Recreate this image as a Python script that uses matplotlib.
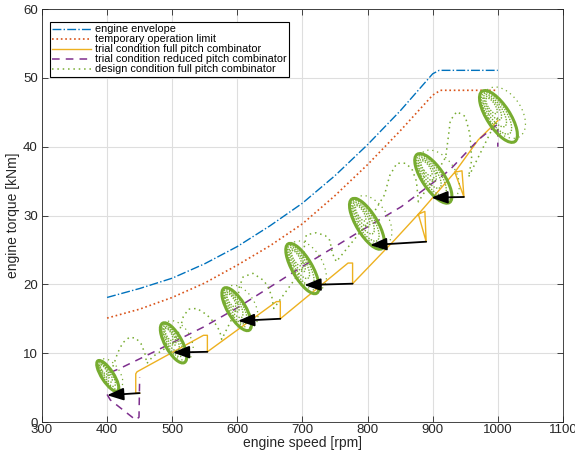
import matplotlib

matplotlib.use("Agg")
import matplotlib.pyplot as plt
import numpy as np
from matplotlib.patches import Ellipse
from matplotlib.transforms import ScaledTranslation

plt.rcParams["font.family"] = ["Liberation Sans", "DejaVu Sans"]

# engine envelope and temporary limit (rpm, kNm)
env_x = [400, 450, 500, 550, 600, 650, 700, 750, 800, 850, 900, 910, 1000]
env_y = [18.1, 19.4, 20.9, 23.0, 25.5, 28.5, 31.8, 35.8, 40.3, 45.2, 50.6, 51.1, 51.1]
lim_x = [400, 450, 500, 550, 600, 650, 700, 750, 800, 850, 900, 912, 1000]
lim_y = [15.1, 16.4, 18.1, 20.2, 22.8, 25.6, 28.8, 32.9, 37.4, 42.3, 47.5, 48.2, 48.2]

# trial condition, full pitch combinator (sawtooth)
full_x = [450, 444, 444, 446, 548, 554, 554, 660, 666, 666, 770, 777, 777, 842,
          878, 888, 890, 878, 934, 945, 948, 934, 970, 1000]
full_y = [4.2, 4.2, 7.0, 7.3, 12.6, 12.6, 10.2, 17.5, 17.5, 15.0, 23.1, 23.1, 20.1, 26.5,
          30.2, 30.6, 26.2, 30.2, 36.3, 36.5, 32.7, 36.3, 41.0, 43.8]

# trial condition, reduced pitch combinator
red_x = [400, 405, 444, 449, 450, np.nan, 405, 420, 470, 548, 600, 700, 783, 852,
         926, 970, 1000, 1000]
red_y = [4.0, 3.2, 0.3, 0.7, 6.5, np.nan, 7.2, 7.8, 10.1, 13.8, 16.6, 22.6, 27.4, 31.3,
         36.6, 41.0, 43.3, 40.0]

# design condition: settled oscillation ellipses (centre rpm, kNm; size px; angle deg)
ell_x = [401, 502, 599, 700, 799, 901, 1001]
ell_y = [6.7, 11.5, 16.4, 22.3, 28.8, 35.4, 44.4]
ell_major = [36, 45, 49, 57, 58, 58, 60]
ell_minor = [12, 17, 18, 20, 21, 22, 23]
ell_angle = [-57, -61, -59, -60, -59, -56, -57]

# design condition: transient loops between settled points
loops_x = [
    [401, 410, 416, 424, 434, 444, 452, 458, 461, 470, 502],
    [502, 512, 517, 525, 538, 553, 566, 573, 576, 599],
    [599, 603, 609, 624, 640, 647, 653, 656, 700],
    [700, 702, 706, 721, 735, 742, 746, 752, 799],
    [799, 826, 834, 845, 858, 868, 875, 878, 901],
    [901, 920, 924, 927, 937, 950, 957, 960, 955, 1001],
]
loops_y = [
    [6.7, 8.3, 10.0, 11.5, 12.3, 12.2, 11.4, 10.0, 8.5, 9.5, 11.5],
    [11.5, 13.5, 15.3, 16.4, 16.5, 15.6, 14.3, 13.2, 12.0, 16.4],
    [16.4, 19.6, 21.1, 21.6, 20.6, 19.7, 18.2, 16.5, 22.3],
    [22.3, 25.0, 27.2, 27.5, 27.1, 26.4, 24.5, 23.3, 28.8],
    [28.8, 33.0, 35.8, 37.6, 37.6, 36.8, 35.0, 32.0, 35.4],
    [35.4, 38.5, 41.4, 43.8, 45.1, 44.4, 41.9, 38.1, 35.6, 44.4],
]

# speed step arrows
arr_x0 = [450, 554, 666, 777, 890, 948]
arr_y0 = [4.2, 10.2, 15.0, 20.1, 26.2, 32.7]
arr_x1 = [400, 501, 601, 703, 804, 898]
arr_y1 = [3.9, 10.1, 14.7, 19.9, 25.7, 32.6]

BLUE = "#0072BD"
RED = "#D95319"
YELLOW = "#EDB120"
PURPLE = "#7E2F8E"
GREEN = "#77AC30"


def ring(ax, cx, cy, w, h, ang, dx=0.0, dy=0.0, **kw):
  # ellipse sized in pixels, centred on a data point
  tr = ax.figure.dpi_scale_trans + ScaledTranslation(cx, cy, ax.transData)
  e = Ellipse((dx / 100, dy / 100), w / 100, h / 100, angle=ang, fill=False,
              transform=tr, **kw)
  ax.add_patch(e)


fig = plt.figure(figsize=(5.75, 4.55), dpi=100)
ax = fig.add_axes([0.073, 0.0725, 0.906, 0.9075])

ax.plot(env_x, env_y, "-.", color=BLUE, lw=1.0, label="engine envelope")
ax.plot(lim_x, lim_y, ":", color=RED, lw=1.2, label="temporary operation limit")
ax.plot(full_x, full_y, "-", color=YELLOW, lw=1.0,
        label="trial condition full pitch combinator")
ax.plot(red_x, red_y, color=PURPLE, lw=1.1, dashes=(5, 4),
        label="trial condition reduced pitch combinator")

for i, (lx, ly) in enumerate(zip(loops_x, loops_y)):
  ax.plot(lx, ly, ls=(0, (1, 2.5)), color=GREEN, lw=1.1,
          label="design condition full pitch combinator" if i == 0 else None)

for cx, cy, w, h, a in zip(ell_x, ell_y, ell_major, ell_minor, ell_angle):
  ux, uy = np.cos(np.radians(a)), np.sin(np.radians(a))
  vx, vy = -uy, ux
  ring(ax, cx, cy, w, h, a, color=GREEN, lw=2.2, zorder=4)
  for s in (0.8, 0.62, 0.45, 0.3):
    off = (1 - s) * w * 0.3
    ring(ax, cx, cy, w * s, h * s, a, dx=-ux * off, dy=-uy * off,
         color=GREEN, lw=1.0, ls=(0, (1, 1)), zorder=4)
  ring(ax, cx, cy, w * 0.95, h * 1.5, a, dx=vx * h * 0.3, dy=vy * h * 0.3,
       color=GREEN, lw=0.9, ls=(0, (1, 3)), zorder=4)

for x0, y0, x1, y1 in zip(arr_x0, arr_y0, arr_x1, arr_y1):
  ax.annotate("", xy=(x1, y1), xytext=(x0, y0), zorder=6,
              arrowprops=dict(arrowstyle="-|>,head_length=1.0,head_width=0.38",
                              color="k", lw=1.3, shrinkA=0, shrinkB=0))

ax.set_xlim(300, 1100)
ax.set_ylim(0, 60)
ax.set_xticks(np.arange(300, 1101, 100))
ax.set_yticks(np.arange(0, 61, 10))
ax.grid(True, color="#dedede", lw=0.8)
ax.set_axisbelow(True)
ax.tick_params(direction="in", top=True, right=True, length=4, width=0.6,
               labelsize=9.5, colors="#262626")
ax.tick_params(axis="x", pad=1.5)
ax.tick_params(axis="y", pad=3)
for sp in ax.spines.values():
  sp.set_linewidth(0.6)
  sp.set_color("#262626")
ax.set_xlabel("engine speed [rpm]", fontsize=10, color="#262626", labelpad=0)
ax.set_ylabel("engine torque [kNm]", fontsize=10, color="#262626", labelpad=2)

leg = ax.legend(loc="upper left", bbox_to_anchor=(0.015, 0.968), borderaxespad=0,
                fontsize=7.8, fancybox=False, edgecolor="k", framealpha=1,
                borderpad=0.2, labelspacing=0.0, handlelength=3.6,
                handletextpad=0.4)
leg.get_frame().set_linewidth(0.8)

fig.savefig("out.png", dpi=100)
